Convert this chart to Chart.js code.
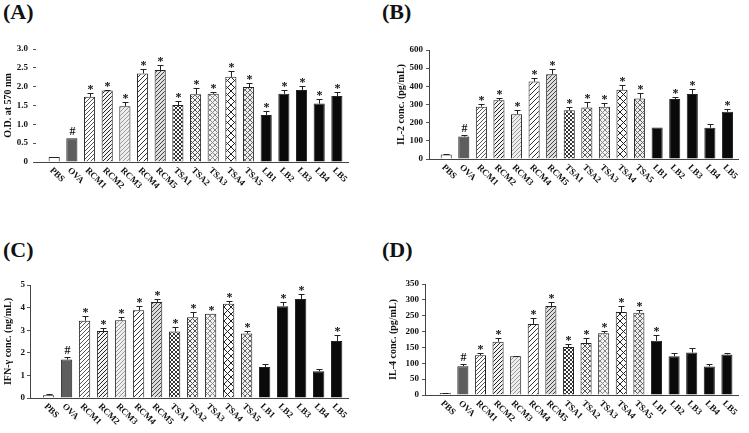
<!DOCTYPE html>
<html>
<head>
<meta charset="utf-8">
<script src="https://cdn.jsdelivr.net/npm/chart.js@4.4.1/dist/chart.umd.min.js"></script>
<style>
  body { margin: 0; background: #fff; width: 749px; height: 433px; position: relative; overflow: hidden; }
  canvas { position: absolute; }
  .tag { position: absolute; font: bold 22px "Liberation Serif", serif; line-height: 1; color: #111; }
</style>
</head>
<body>
<div class="tag" style="left:3px;top:1px">(A)</div>
<div class="tag" style="left:382px;top:1px">(B)</div>
<div class="tag" style="left:3px;top:239px">(C)</div>
<div class="tag" style="left:382px;top:239px">(D)</div>
<canvas id="chartA" width="375" height="216" style="left:0;top:0"></canvas>
<canvas id="chartB" width="374" height="216" style="left:375px;top:0"></canvas>
<canvas id="chartC" width="375" height="217" style="left:0;top:216px"></canvas>
<canvas id="chartD" width="374" height="217" style="left:375px;top:216px"></canvas>
<script>
"use strict"
const categories = ["PBS", "OVA", "RCM1", "RCM2", "RCM3", "RCM4", "RCM5",
    "TSA1", "TSA2", "TSA3", "TSA4", "TSA5", "LB1", "LB2", "LB3", "LB4", "LB5"];

// (A) O.D. at 570 nm
const odValues = [0.13, 0.63, 1.73, 1.90, 1.48, 2.35, 2.44, 1.51, 1.80, 1.81, 2.26, 1.99, 1.25, 1.81, 1.91, 1.55, 1.75];
const odErrors = [0.01, 0, 0.11, 0.01, 0.11, 0.13, 0.14, 0.11, 0.16, 0.05, 0.16, 0.11, 0.10, 0.11, 0.12, 0.12, 0.12];
const odMarks = ["", "#", "*", "*", "*", "*", "*", "*", "*", "*", "*", "*", "*", "*", "*", "*", "*"];
const odTicks = [0, 0.5, 1, 1.5, 2, 2.5, 3];
const odTickLabels = ["0", "0.5", "1.0", "1.5", "2.0", "2.5", "3.0"];

// (B) IL-2
const il2Values = [25, 124, 288, 324, 247, 426, 466, 269, 283, 288, 381, 333, 174, 330, 358, 172, 260];
const il2Errors = [5, 8, 15, 11, 20, 20, 27, 19, 32, 22, 24, 31, 0, 14, 25, 23, 14];
const il2Marks = ["", "#", "*", "*", "*", "*", "*", "*", "*", "*", "*", "*", "", "*", "*", "", "*"];
const il2Ticks = [0, 100, 200, 300, 400, 500, 600];

// (C) IFN-gamma
const ifnValues = [0.12, 1.70, 3.42, 2.96, 3.44, 3.88, 4.25, 2.94, 3.57, 3.73, 4.17, 2.85, 1.37, 4.06, 4.38, 1.18, 2.52];
const ifnErrors = [0.04, 0.10, 0.22, 0.15, 0.14, 0.19, 0.15, 0.19, 0.24, 0, 0.14, 0.11, 0.12, 0.20, 0.22, 0.09, 0.27];
const ifnMarks = ["", "#", "*", "*", "*", "*", "*", "*", "*", "*", "*", "*", "", "*", "*", "", "*"];
const ifnTicks = [0, 1, 2, 3, 4, 5];

// (D) IL-4
const il4Values = [6, 91, 125, 168, 122, 224, 281, 151, 164, 195, 262, 259, 171, 122, 134, 90, 128];
const il4Errors = [1, 8, 6, 12, 1, 19, 11, 11, 15, 7, 18, 9, 19, 12, 14, 7, 6];
const il4Marks = ["", "#", "*", "*", "", "*", "*", "*", "*", "*", "*", "*", "*", "", "", "", ""];
const il4Ticks = [0, 50, 100, 150, 200, 250, 300, 350];

const serif = '"Liberation Serif", "Times New Roman", serif';

// hatch fill for the bars
function hatch(ctx, bg, fg, size, cross) {
    const c = document.createElement("canvas");
    c.width = size;
    c.height = size;
    const g = c.getContext("2d");
    g.fillStyle = bg;
    g.fillRect(0, 0, size, size);
    g.strokeStyle = fg;
    g.lineWidth = 1;
    g.beginPath();
    g.moveTo(0, size); g.lineTo(size, 0);
    g.moveTo(-1, 1); g.lineTo(1, -1);
    g.moveTo(size - 1, size + 1); g.lineTo(size + 1, size - 1);
    if (cross) {
        g.moveTo(0, 0); g.lineTo(size, size);
        g.moveTo(-1, size - 1); g.lineTo(1, size + 1);
        g.moveTo(size - 1, -1); g.lineTo(size + 1, 1);
    }
    g.stroke();
    return ctx.createPattern(c, "repeat");
}

function barFills(ctx) {
    return [
        "#ffffff", "#5e5e5e",
        hatch(ctx, "#ffffff", "#555", 4, false),
        hatch(ctx, "#f4f4f4", "#222", 4, false),
        hatch(ctx, "#eeeeee", "#999", 4, false),
        hatch(ctx, "#ffffff", "#333", 5, false),
        hatch(ctx, "#dddddd", "#444", 4, false),
        hatch(ctx, "#ffffff", "#333", 4, true),
        hatch(ctx, "#f6f6f6", "#555", 5, true),
        hatch(ctx, "#f2f2f2", "#888", 5, true),
        hatch(ctx, "#ffffff", "#222", 7, true),
        hatch(ctx, "#eeeeee", "#666", 5, true),
        "#0a0a0a", "#0a0a0a", "#0a0a0a", "#0a0a0a", "#0a0a0a"
    ];
}

// error bars, significance marks and slanted category labels
const extrasPlugin = {
    id: "extras",
    afterDatasetsDraw(chart) {
        const p = chart.options.plugins.extras;
        const ctx = chart.ctx;
        const x = chart.scales.x;
        const y = chart.scales.y;
        ctx.save();
        ctx.strokeStyle = "#222";
        ctx.lineWidth = 1;
        ctx.fillStyle = "#111";
        ctx.textAlign = "center";
        ctx.textBaseline = "alphabetic";
        p.values.forEach(function (v, i) {
            const cx = Math.round(x.getPixelForValue(i)) + 0.5;
            const base = y.getPixelForValue(v);
            const top = Math.round(y.getPixelForValue(v + p.errors[i])) + 0.5;
            if (p.errors[i] > 0) {
                ctx.beginPath();
                ctx.moveTo(cx, base);
                ctx.lineTo(cx, top);
                ctx.moveTo(cx - 3, top);
                ctx.lineTo(cx + 3, top);
                ctx.stroke();
            }
            if (p.marks[i]) {
                ctx.font = "bold 12px " + serif;
                const off = p.marks[i] == "*" ? -1 : 2;
                ctx.fillText(p.marks[i], cx, top - 2 - off);
            }
        });
        ctx.font = "bold 9px " + serif;
        ctx.textAlign = "left";
        ctx.textBaseline = "middle";
        categories.forEach(function (c, i) {
            ctx.save();
            ctx.translate(x.getPixelForValue(i) - 3, x.top + 7);
            ctx.rotate(Math.PI / 4);
            ctx.fillText(c, 0, 0);
            ctx.restore();
        });
        ctx.restore();
    }
};

function makeChart(id, s) {
    const canvas = document.getElementById(id);
    const ctx = canvas.getContext("2d");
    const fills = barFills(ctx);
    return new Chart(ctx, {
        type: "bar",
        data: {
            datasets: [{
                data: s.values.map((v, i) => ({ x: i, y: v })),
                backgroundColor: fills,
                borderColor: "#222",
                borderWidth: 1,
                barPercentage: 0.63,
                categoryPercentage: 1
            }]
        },
        options: {
            responsive: false,
            animation: false,
            events: [],
            layout: { padding: { left: s.padLeft, top: s.padTop, right: s.padRight, bottom: 0 } },
            plugins: {
                legend: { display: false },
                tooltip: { enabled: false },
                extras: { values: s.values, errors: s.errors, marks: s.marks }
            },
            scales: {
                x: {
                    type: "linear",
                    offset: false,
                    min: s.xMin,
                    max: s.xMax,
                    grid: { display: false, offset: false },
                    border: { display: true, color: "#444" },
                    ticks: { display: false },
                    afterFit: sc => { sc.height = s.xHeight; }
                },
                y: {
                    min: 0,
                    max: s.ticks[s.ticks.length - 1],
                    afterBuildTicks: sc => { sc.ticks = s.ticks.map(v => ({ value: v })); },
                    ticks: {
                        callback: (v, i) => s.tickLabels ? s.tickLabels[i] : String(v),
                        font: { family: serif, size: 9, weight: "bold" },
                        color: "#111",
                        padding: s.tickPad
                    },
                    grid: { drawOnChartArea: false, tickLength: 3, color: "#555" },
                    border: { display: s.yBorder, color: "#444" },
                    title: {
                        display: true,
                        text: s.title,
                        font: { family: serif, size: 10, weight: "bold" },
                        color: "#111",
                        padding: { top: 2, bottom: 0 }
                    },
                    afterFit: sc => { sc.width = s.yWidth; }
                }
            }
        },
        plugins: [extrasPlugin]
    });
}

makeChart("chartA", {
    values: odValues, errors: odErrors, marks: odMarks, ticks: odTicks, tickLabels: odTickLabels,
    title: "O.D. at 570 nm", padLeft: 0, yWidth: 36, padTop: 49, padRight: 27, xHeight: 54,
    xMin: -1.03, xMax: 16.63, tickPad: 5, yBorder: false
});
makeChart("chartB", {
    values: il2Values, errors: il2Errors, marks: il2Marks, ticks: il2Ticks,
    title: "IL-2 conc. (pg/mL)", padLeft: 18, yWidth: 36, padTop: 50, padRight: 11, xHeight: 57,
    xMin: -0.98, xMax: 16.6, tickPad: 3, yBorder: true
});
makeChart("chartC", {
    values: ifnValues, errors: ifnErrors, marks: ifnMarks, ticks: ifnTicks,
    title: "IFN-\u03b3 conc. (ng/mL)", padLeft: 0, yWidth: 30, padTop: 69, padRight: 27, xHeight: 35,
    xMin: -1.03, xMax: 16.63, tickPad: 2, yBorder: true
});
makeChart("chartD", {
    values: il4Values, errors: il4Errors, marks: il4Marks, ticks: il4Ticks,
    title: "IL-4 conc. (pg/mL)", padLeft: 10, yWidth: 40, padTop: 68, padRight: 11, xHeight: 38,
    xMin: -1.15, xMax: 16.63, tickPad: 3, yBorder: true
});
</script>
</body>
</html>
